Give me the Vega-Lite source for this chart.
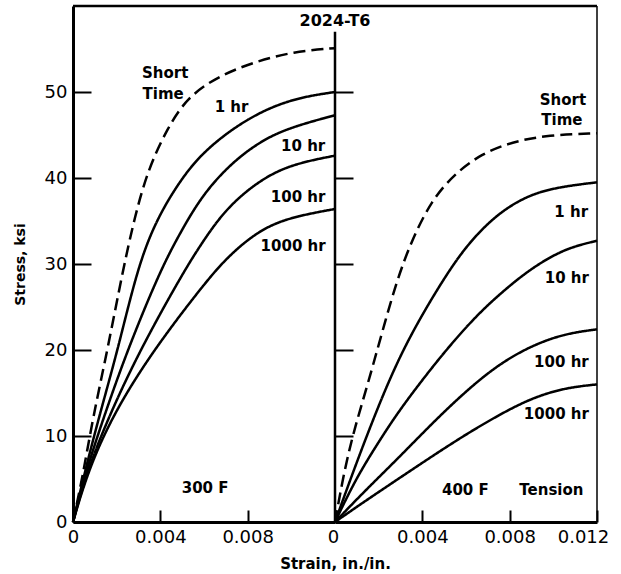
{
  "$schema": "https://vega.github.io/schema/vega-lite/v6.json",
  "background": "white",
  "padding": {"left": 13, "top": 4, "right": 5, "bottom": 5},
  "spacing": 0,
  "bounds": "flush",
  "config": {
    "view": {"stroke": null},
    "axis": {"domainColor": "black", "domainWidth": 2.5, "tickColor": "black", "tickWidth": 2, "labelColor": "black", "labelFont": "DejaVu Sans", "labelFontSize": 18, "titleFont": "DejaVu Sans", "titleColor": "black", "titleFontWeight": "bold", "grid": false, "labelAngle": 0, "labelOverlap": false, "labelFlush": false},
    "text": {"font": "DejaVu Sans", "fontWeight": "bold", "fontSize": 15, "color": "black", "baseline": "middle", "align": "center"}
  },
  "datasets": {
    "curves": [
      {"temp": "300 F", "series": "Short Time", "strain": 0, "stress": 0},
      {"temp": "300 F", "series": "Short Time", "strain": 0.00046, "stress": 5.5},
      {"temp": "300 F", "series": "Short Time", "strain": 0.00091, "stress": 12.1},
      {"temp": "300 F", "series": "Short Time", "strain": 0.00157, "stress": 19.9},
      {"temp": "300 F", "series": "Short Time", "strain": 0.00228, "stress": 29.2},
      {"temp": "300 F", "series": "Short Time", "strain": 0.00282, "stress": 35.4},
      {"temp": "300 F", "series": "Short Time", "strain": 0.00342, "stress": 40.9},
      {"temp": "300 F", "series": "Short Time", "strain": 0.00434, "stress": 45.9},
      {"temp": "300 F", "series": "Short Time", "strain": 0.00525, "stress": 49.4},
      {"temp": "300 F", "series": "Short Time", "strain": 0.00662, "stress": 51.8},
      {"temp": "300 F", "series": "Short Time", "strain": 0.0083, "stress": 53.5},
      {"temp": "300 F", "series": "Short Time", "strain": 0.0101, "stress": 54.7},
      {"temp": "300 F", "series": "Short Time", "strain": 0.012, "stress": 55.1},
      {"temp": "300 F", "series": "1 hr", "strain": 0, "stress": 0},
      {"temp": "300 F", "series": "1 hr", "strain": 0.00055, "stress": 5.9},
      {"temp": "300 F", "series": "1 hr", "strain": 0.00122, "stress": 12.5},
      {"temp": "300 F", "series": "1 hr", "strain": 0.00204, "stress": 19.9},
      {"temp": "300 F", "series": "1 hr", "strain": 0.00292, "stress": 29.2},
      {"temp": "300 F", "series": "1 hr", "strain": 0.00373, "stress": 34.7},
      {"temp": "300 F", "series": "1 hr", "strain": 0.00479, "stress": 39.3},
      {"temp": "300 F", "series": "1 hr", "strain": 0.00586, "stress": 42.8},
      {"temp": "300 F", "series": "1 hr", "strain": 0.00738, "stress": 45.9},
      {"temp": "300 F", "series": "1 hr", "strain": 0.0089, "stress": 48.1},
      {"temp": "300 F", "series": "1 hr", "strain": 0.01042, "stress": 49.4},
      {"temp": "300 F", "series": "1 hr", "strain": 0.012, "stress": 50.0},
      {"temp": "300 F", "series": "10 hr", "strain": 0, "stress": 0},
      {"temp": "300 F", "series": "10 hr", "strain": 0.00059, "stress": 5.9},
      {"temp": "300 F", "series": "10 hr", "strain": 0.00145, "stress": 12.5},
      {"temp": "300 F", "series": "10 hr", "strain": 0.00248, "stress": 19.9},
      {"temp": "300 F", "series": "10 hr", "strain": 0.00392, "stress": 28.8},
      {"temp": "300 F", "series": "10 hr", "strain": 0.00479, "stress": 33.1},
      {"temp": "300 F", "series": "10 hr", "strain": 0.00586, "stress": 37.8},
      {"temp": "300 F", "series": "10 hr", "strain": 0.00708, "stress": 41.3},
      {"temp": "300 F", "series": "10 hr", "strain": 0.0083, "stress": 43.8},
      {"temp": "300 F", "series": "10 hr", "strain": 0.00967, "stress": 45.7},
      {"temp": "300 F", "series": "10 hr", "strain": 0.012, "stress": 47.3},
      {"temp": "300 F", "series": "100 hr", "strain": 0, "stress": 0},
      {"temp": "300 F", "series": "100 hr", "strain": 0.00064, "stress": 5.9},
      {"temp": "300 F", "series": "100 hr", "strain": 0.00168, "stress": 12.5},
      {"temp": "300 F", "series": "100 hr", "strain": 0.00305, "stress": 19.9},
      {"temp": "300 F", "series": "100 hr", "strain": 0.00495, "stress": 28.6},
      {"temp": "300 F", "series": "100 hr", "strain": 0.00586, "stress": 32.3},
      {"temp": "300 F", "series": "100 hr", "strain": 0.00693, "stress": 36.2},
      {"temp": "300 F", "series": "100 hr", "strain": 0.0083, "stress": 39.3},
      {"temp": "300 F", "series": "100 hr", "strain": 0.00982, "stress": 41.5},
      {"temp": "300 F", "series": "100 hr", "strain": 0.012, "stress": 42.6},
      {"temp": "300 F", "series": "1000 hr", "strain": 0, "stress": 0},
      {"temp": "300 F", "series": "1000 hr", "strain": 0.00068, "stress": 5.9},
      {"temp": "300 F", "series": "1000 hr", "strain": 0.00183, "stress": 12.5},
      {"temp": "300 F", "series": "1000 hr", "strain": 0.00365, "stress": 19.9},
      {"temp": "300 F", "series": "1000 hr", "strain": 0.0061, "stress": 28.0},
      {"temp": "300 F", "series": "1000 hr", "strain": 0.00708, "stress": 30.8},
      {"temp": "300 F", "series": "1000 hr", "strain": 0.0083, "stress": 33.5},
      {"temp": "300 F", "series": "1000 hr", "strain": 0.00967, "stress": 35.3},
      {"temp": "300 F", "series": "1000 hr", "strain": 0.012, "stress": 36.4},
      {"temp": "400 F", "series": "Short Time", "strain": 0, "stress": 0},
      {"temp": "400 F", "series": "Short Time", "strain": 0.00045, "stress": 6.3},
      {"temp": "400 F", "series": "Short Time", "strain": 0.00091, "stress": 11.0},
      {"temp": "400 F", "series": "Short Time", "strain": 0.00152, "stress": 16.2},
      {"temp": "400 F", "series": "Short Time", "strain": 0.00213, "stress": 21.8},
      {"temp": "400 F", "series": "Short Time", "strain": 0.00281, "stress": 27.9},
      {"temp": "400 F", "series": "Short Time", "strain": 0.0035, "stress": 32.7},
      {"temp": "400 F", "series": "Short Time", "strain": 0.00442, "stress": 37.4},
      {"temp": "400 F", "series": "Short Time", "strain": 0.00548, "stress": 40.5},
      {"temp": "400 F", "series": "Short Time", "strain": 0.0067, "stress": 42.8},
      {"temp": "400 F", "series": "Short Time", "strain": 0.0081, "stress": 44.2},
      {"temp": "400 F", "series": "Short Time", "strain": 0.00976, "stress": 45.0},
      {"temp": "400 F", "series": "Short Time", "strain": 0.012, "stress": 45.2},
      {"temp": "400 F", "series": "1 hr", "strain": 0, "stress": 0},
      {"temp": "400 F", "series": "1 hr", "strain": 0.00068, "stress": 4.8},
      {"temp": "400 F", "series": "1 hr", "strain": 0.00182, "stress": 12.5},
      {"temp": "400 F", "series": "1 hr", "strain": 0.00312, "stress": 20.3},
      {"temp": "400 F", "series": "1 hr", "strain": 0.0048, "stress": 27.6},
      {"temp": "400 F", "series": "1 hr", "strain": 0.00594, "stress": 31.9},
      {"temp": "400 F", "series": "1 hr", "strain": 0.00716, "stress": 35.2},
      {"temp": "400 F", "series": "1 hr", "strain": 0.00838, "stress": 37.4},
      {"temp": "400 F", "series": "1 hr", "strain": 0.00976, "stress": 38.8},
      {"temp": "400 F", "series": "1 hr", "strain": 0.012, "stress": 39.5},
      {"temp": "400 F", "series": "10 hr", "strain": 0, "stress": 0},
      {"temp": "400 F", "series": "10 hr", "strain": 0.00091, "stress": 4.8},
      {"temp": "400 F", "series": "10 hr", "strain": 0.00182, "stress": 8.6},
      {"temp": "400 F", "series": "10 hr", "strain": 0.00281, "stress": 12.5},
      {"temp": "400 F", "series": "10 hr", "strain": 0.00396, "stress": 16.4},
      {"temp": "400 F", "series": "10 hr", "strain": 0.00518, "stress": 20.3},
      {"temp": "400 F", "series": "10 hr", "strain": 0.00655, "stress": 24.2},
      {"temp": "400 F", "series": "10 hr", "strain": 0.00777, "stress": 27.0},
      {"temp": "400 F", "series": "10 hr", "strain": 0.00899, "stress": 29.5},
      {"temp": "400 F", "series": "10 hr", "strain": 0.01052, "stress": 31.8},
      {"temp": "400 F", "series": "10 hr", "strain": 0.012, "stress": 32.7},
      {"temp": "400 F", "series": "100 hr", "strain": 0, "stress": 0},
      {"temp": "400 F", "series": "100 hr", "strain": 0.00136, "stress": 3.6},
      {"temp": "400 F", "series": "100 hr", "strain": 0.00289, "stress": 7.4},
      {"temp": "400 F", "series": "100 hr", "strain": 0.00442, "stress": 11.4},
      {"temp": "400 F", "series": "100 hr", "strain": 0.00594, "stress": 15.1},
      {"temp": "400 F", "series": "100 hr", "strain": 0.00747, "stress": 18.3},
      {"temp": "400 F", "series": "100 hr", "strain": 0.00899, "stress": 20.5},
      {"temp": "400 F", "series": "100 hr", "strain": 0.01052, "stress": 21.9},
      {"temp": "400 F", "series": "100 hr", "strain": 0.012, "stress": 22.4},
      {"temp": "400 F", "series": "1000 hr", "strain": 0, "stress": 0},
      {"temp": "400 F", "series": "1000 hr", "strain": 0.00136, "stress": 2.4},
      {"temp": "400 F", "series": "1000 hr", "strain": 0.00289, "stress": 5.0},
      {"temp": "400 F", "series": "1000 hr", "strain": 0.00442, "stress": 7.6},
      {"temp": "400 F", "series": "1000 hr", "strain": 0.00594, "stress": 10.1},
      {"temp": "400 F", "series": "1000 hr", "strain": 0.00747, "stress": 12.4},
      {"temp": "400 F", "series": "1000 hr", "strain": 0.00899, "stress": 14.4},
      {"temp": "400 F", "series": "1000 hr", "strain": 0.01052, "stress": 15.6},
      {"temp": "400 F", "series": "1000 hr", "strain": 0.012, "stress": 16.0}
    ],
    "labels": [
      {"temp": "300 F", "label": "Short", "strain": 0.00422, "stress": 52.2},
      {"temp": "300 F", "label": "Time", "strain": 0.00413, "stress": 49.8},
      {"temp": "300 F", "label": "1 hr", "strain": 0.00726, "stress": 48.2},
      {"temp": "300 F", "label": "10 hr", "strain": 0.01054, "stress": 43.7},
      {"temp": "300 F", "label": "100 hr", "strain": 0.01031, "stress": 37.8},
      {"temp": "300 F", "label": "1000 hr", "strain": 0.01008, "stress": 32.1},
      {"temp": "300 F", "label": "300 F", "strain": 0.00605, "stress": 3.9},
      {"temp": "400 F", "label": "Short", "strain": 0.01044, "stress": 49.1},
      {"temp": "400 F", "label": "Time", "strain": 0.01039, "stress": 46.8},
      {"temp": "400 F", "label": "1 hr", "strain": 0.01082, "stress": 36.1},
      {"temp": "400 F", "label": "10 hr", "strain": 0.01062, "stress": 28.4},
      {"temp": "400 F", "label": "100 hr", "strain": 0.01037, "stress": 18.6},
      {"temp": "400 F", "label": "1000 hr", "strain": 0.01014, "stress": 12.6},
      {"temp": "400 F", "label": "400 F", "strain": 0.00597, "stress": 3.7},
      {"temp": "400 F", "label": "Tension", "strain": 0.00991, "stress": 3.7}
    ],
    "heading": [
      {"label": "2024-T6", "strain": 0, "stress": 58.3}
    ]
  },
  "hconcat": [
    {
      "width": 262,
      "height": 516,
      "layer": [
        {
          "data": {"name": "curves"},
          "transform": [{"filter": "datum.temp === '300 F'"}],
          "mark": {"type": "line", "interpolate": "basis", "strokeWidth": 2.5, "color": "black"},
          "encoding": {
            "x": {"field": "strain", "type": "quantitative", "scale": {"domain": [0, 0.012], "nice": false}, "axis": {"values": [0, 0.004, 0.008], "labelExpr": "datum.value === 0 ? '0' : format(datum.value, '.3f')", "tickSize": -12, "labelPadding": 18, "domainWidth": 3, "title": "Strain, in./in.", "titleFontSize": 15, "titleX": 262, "titleY": 46, "titleBaseline": "alphabetic", "titleAlign": "center", "titleAnchor": null}},
            "y": {"field": "stress", "type": "quantitative", "scale": {"domain": [0, 60], "nice": false}, "axis": {"values": [0, 10, 20, 30, 40, 50], "tickSize": -18, "labelPadding": 24, "domainWidth": 3, "title": "Stress, ksi", "titleFontSize": 14, "titleX": -49, "titleY": 258, "titleAngle": -90, "titleBaseline": "alphabetic", "titleAlign": "center"}},
            "detail": {"field": "series", "type": "nominal"},
            "strokeDash": {"field": "series", "type": "nominal", "scale": {"domain": ["Short Time", "1 hr", "10 hr", "100 hr", "1000 hr"], "range": [[12, 6], [1, 0], [1, 0], [1, 0], [1, 0]]}, "legend": null}
          }
        },
        {
          "data": {"name": "labels"},
          "transform": [{"filter": "datum.temp === '300 F'"}],
          "mark": {"type": "text"},
          "encoding": {
            "x": {"field": "strain", "type": "quantitative"},
            "y": {"field": "stress", "type": "quantitative"},
            "text": {"field": "label"}
          }
        },
        {
          "data": {"values": [{}]},
          "mark": {"type": "rule", "strokeWidth": 2.5, "color": "black"},
          "encoding": {"x": {"datum": 0}, "x2": {"datum": 0.012}, "y": {"datum": 60}}
        }
      ]
    },
    {
      "width": 262,
      "height": 516,
      "layer": [
        {
          "data": {"name": "curves"},
          "transform": [{"filter": "datum.temp === '400 F'"}],
          "mark": {"type": "line", "interpolate": "basis", "strokeWidth": 2.5, "color": "black"},
          "encoding": {
            "x": {"field": "strain", "type": "quantitative", "scale": {"domain": [0, 0.012], "nice": false}, "axis": {"values": [0, 0.004, 0.008, 0.012], "labelExpr": "datum.value === 0 ? '0' : format(datum.value, '.3f')", "tickSize": -12, "labelPadding": 18, "domainWidth": 3, "title": null, "labelOffset": {"condition": [{"test": "datum.value >= 0.012", "value": -14}, {"test": "datum.value === 0", "value": -2}], "value": 0}}},
            "y": {"field": "stress", "type": "quantitative", "scale": {"domain": [0, 60], "nice": false}, "axis": {"values": [10, 20, 30, 40, 50], "tickSize": -18, "labels": false, "domain": false, "title": null}},
            "detail": {"field": "series", "type": "nominal"},
            "strokeDash": {"field": "series", "type": "nominal", "scale": {"domain": ["Short Time", "1 hr", "10 hr", "100 hr", "1000 hr"], "range": [[12, 6], [1, 0], [1, 0], [1, 0], [1, 0]]}, "legend": null}
          }
        },
        {
          "data": {"name": "labels"},
          "transform": [{"filter": "datum.temp === '400 F'"}],
          "mark": {"type": "text"},
          "encoding": {
            "x": {"field": "strain", "type": "quantitative"},
            "y": {"field": "stress", "type": "quantitative"},
            "text": {"field": "label"}
          }
        },
        {
          "data": {"name": "heading"},
          "mark": {"type": "text", "fontSize": 16},
          "encoding": {
            "x": {"field": "strain", "type": "quantitative"},
            "y": {"field": "stress", "type": "quantitative"},
            "text": {"field": "label"}
          }
        },
        {
          "data": {"values": [{}]},
          "mark": {"type": "rule", "strokeWidth": 2.5, "color": "black"},
          "encoding": {"x": {"datum": 0}, "y": {"datum": 0}, "y2": {"datum": 57}}
        },
        {
          "data": {"values": [{}]},
          "mark": {"type": "rule", "strokeWidth": 2.5, "color": "black"},
          "encoding": {"x": {"datum": 0}, "x2": {"datum": 0.012}, "y": {"datum": 60}}
        },
        {
          "data": {"values": [{}]},
          "mark": {"type": "rule", "strokeWidth": 1.5, "color": "black"},
          "encoding": {"x": {"datum": 0.012}, "y": {"datum": 0}, "y2": {"datum": 60}}
        }
      ]
    }
  ]
}
